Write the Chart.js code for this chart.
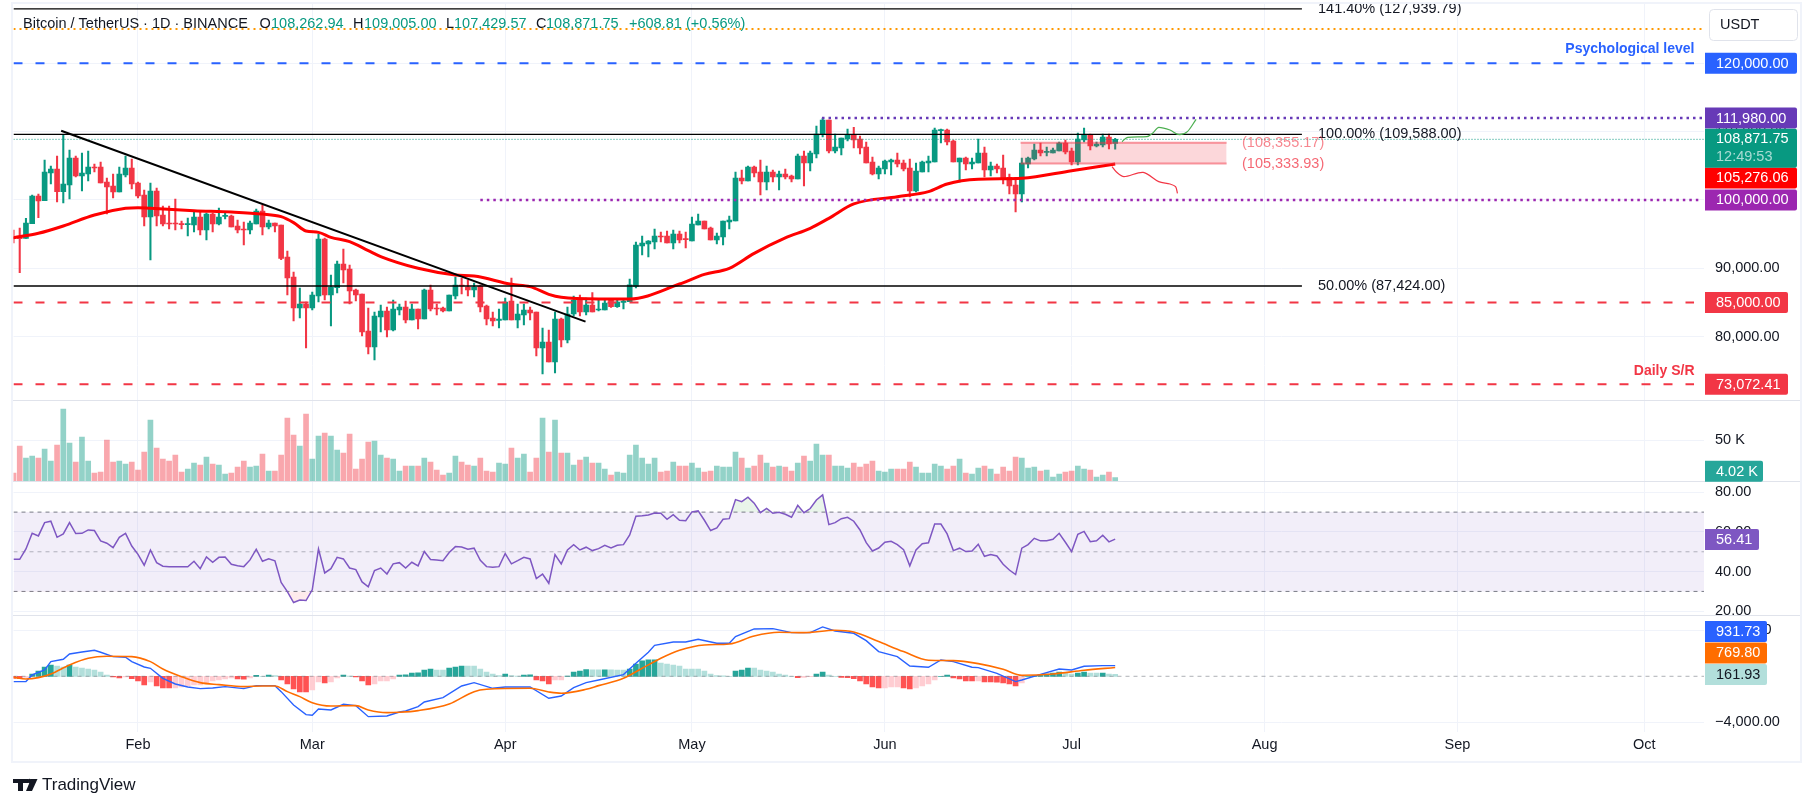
<!DOCTYPE html>
<html>
<head>
<meta charset="utf-8">
<title>Bitcoin / TetherUS</title>
<script src="https://cdn.jsdelivr.net/npm/chart.js@4"></script>
<style>
    html, body { margin: 0; padding: 0; background: #fff; }
    #chart { display: block; }
</style>
</head>
<body>
<canvas id="chart" width="1814" height="806"></canvas>
<script>
// daily candles, index 0 = 12 Jan
const opens = [
    94540,94540,94400,96540,100590,99900,103950,104530,101220,102190,
    106140,103510,103800,104830,104830,102630,102050,101170,103660,104680,
    102490,100730,97520,101320,97810,96640,96590,96540,96400,96350,
    97520,95620,97950,96490,97610,97660,96200,95760,95620,96490,
    98390,96050,96640,96350,91670,88740,84210,84800,84210,85970,
    94300,86110,87180,90640,89910,86840,86260,80850,78510,82900,
    83770,81000,83920,84360,82460,84070,82600,86840,84210,84210,
    83770,85970,87570,87280,86840,87430,84500,82750,82410,82460,
    85230,82460,83190,83920,83630,78360,79240,76320,82600,79530,
    83330,85380,83630,84650,83920,83920,85380,84410,85040,85140,
    87380,93280,93570,93860,94740,94740,93710,95030,94300,94010,
    96350,96930,95910,94150,94590,96790,96930,103220,102780,104830,
    104090,102630,104090,103360,103800,103510,103070,106430,105410,106730,
    109650,111700,107160,107600,108920,109600,108920,107750,105560,103800,
    104530,105560,105850,105410,104680,101320,104090,105410,105560,110140,
    110230,108630,105560,106140,105260,105410,106870,104390,104970,104680,
    103320,102190,100880,105260,106000,107310,106970,106870,107170,108330,
    107170,105560,108770,109500,107900,108040,109210,108262.94
];
const highs = [
    95620,95910,97320,100730,100880,105850,104970,106430,109600,107310,
    106430,106870,107160,105260,105560,103220,103800,104830,106430,106000,
    102630,101460,102490,101760,99120,99120,100150,96930,97370,98390,
    98390,98100,98100,98830,98100,97810,97080,96780,96930,98690,
    99270,97080,96640,96350,92540,89470,87140,85090,86550,95030,
    94450,89040,91080,92840,90500,86990,86260,84210,83630,84650,
    84360,85380,84800,85230,84800,84070,86990,87570,84800,84360,
    86110,88740,88600,88300,87870,87570,84650,83630,84070,85670,
    88600,84800,84800,84360,83630,81290,81000,83630,82750,84360,
    85970,86110,85670,86450,85530,85480,85480,85630,85480,88450,
    93860,94740,94060,95760,95320,95470,95620,95470,95320,97520,
    97950,96930,96050,95180,96930,97660,104090,104390,104970,104970,
    105850,104970,104390,104240,104530,103660,106730,107160,107160,110820,
    111990,111700,109650,109070,110380,110620,109360,108480,106290,104970,
    105850,106000,106870,105850,106000,105410,105700,106430,110530,110380,
    110380,108770,106140,106290,106140,108920,107750,105560,105260,106580,
    103800,103320,106140,106290,108190,108330,107750,107600,108480,108770,
    107600,109800,110530,109650,108480,109650,109650,109005
];
const lows = [
    93710,89380,94400,96540,97420,99900,102340,99710,99560,100150,
    103360,101320,102780,104090,102490,97950,100290,101170,103360,101610,
    100290,96200,91230,96200,96200,95760,95620,95760,94740,95320,
    94880,94150,95320,96350,97220,96050,95180,93420,95030,96490,
    94880,95760,95320,91280,86110,82310,82750,78360,83920,85090,
    85380,81580,86400,87870,84800,85230,80120,77490,76610,80700,
    79970,80850,83190,82020,82460,81140,82600,83770,83190,83630,
    83770,85530,86260,85970,85820,83630,81730,81580,81290,82460,
    82460,81290,81730,82460,77190,74560,76320,74710,78510,79100,
    83040,83040,83190,83630,83770,83920,84310,84310,84070,85140,
    87140,91960,91670,92840,93860,93710,92840,93710,92980,94010,
    96350,95760,94150,93570,93420,95760,96930,102340,102780,103360,
    100730,101460,102630,101460,103070,102630,103070,102050,104240,106140,
    109210,106870,106870,106580,108630,107600,106730,105410,103660,103070,
    103800,103660,104830,104240,100440,101170,104090,104090,105560,108330,
    108040,105560,102630,104390,104530,105410,103360,103510,103950,102340,
    100880,98250,99710,104680,105850,106430,106430,106870,107170,106730,
    105120,105120,108480,107310,107750,107750,107460,107429.57
];
const closes = [
    94350,94350,96640,100590,99850,104090,104530,101220,102340,106140,
    103510,103950,104830,104680,102490,101900,101170,103800,104680,102340,
    100590,97520,101320,97660,96490,96490,96490,96400,96490,97520,
    95620,97950,96490,97520,97760,96050,95620,95620,96640,98390,
    96050,96640,96200,91470,88600,84210,84800,84210,86110,94300,
    86110,87280,90640,89770,86700,86110,80700,78510,83040,83770,
    81000,84070,84360,82460,84070,82600,86840,84070,84070,83770,
    86110,87570,87430,86840,87280,84360,82600,82310,82600,85090,
    82460,83330,83920,83480,78360,79240,76320,82600,79530,83330,
    85380,83630,84650,83630,84070,84940,84410,85090,85240,87580,
    93420,93710,94010,94740,94590,93710,95030,94150,94200,96490,
    96930,95760,94150,94740,96930,97080,103220,102780,104830,103950,
    102630,104090,103360,103800,103360,103070,106430,105410,106870,109650,
    111700,107160,107750,109070,109500,108770,107600,105410,103800,104680,
    105700,105850,105260,104530,101320,104240,105560,105700,110230,110230,
    108480,105560,106140,105260,105560,106870,104390,104970,104530,103070,
    102050,100880,105410,106140,107310,106870,107070,107310,108330,107020,
    105560,108920,109500,107900,108190,109210,108190,108871.75
];
// volume in thousands, same index as the candles
const volumeK = [
    9.8,42.7,28,30.5,28,39,24.4,43.9,87.8,46.3,
    23.2,53.7,24.4,9.8,11,50,23.2,24.4,20.7,23.2,
    13.4,35.4,74.4,40.2,26.8,24.4,31.7,11,14.6,22,
    19.5,29.3,20.7,19.5,8.5,9.8,17.1,24.4,17.1,18.3,
    32.9,12.2,12.2,31.7,76.8,56.1,42.7,81.7,26.8,54.9,
    58.5,54.9,37.8,34.1,57.3,14.6,26.8,47.6,48.8,31.7,
    28,26.8,12.2,18.3,18.3,18.3,28,23.2,13.4,7.3,
    9.8,30.5,23.2,19.5,18.3,28,12.2,11,22,20.7,
    40.2,28,32.9,11,28,76.8,35.4,74.4,34.1,34.1,
    19.5,25.6,29.3,22,22,14.6,7.3,11,9.8,31.7,
    43.9,28,20.7,28,11,12.2,23.2,18.3,18.3,22,
    15.9,11,12.2,18.3,17.1,17.1,35.4,28,15.9,18.3,
    31.7,22,17.1,18.3,17.1,12.2,22,30.5,24.4,45.1,
    31.7,31.7,18.3,18.3,15.9,22,17.1,20.7,24.4,12.2,
    11,14.6,14.6,14.6,23.2,17.1,9.8,9.8,20.7,18.3,
    14.6,18.3,26.8,9.8,8.5,15.9,18.3,14.6,8.5,17.1,
    12.2,29.3,28,15.9,17.1,12.2,13.4,4.9,8.5,11,
    12.2,18.3,14.6,13.4,4.9,7.3,11,4.02
];
const rsiValues = [
    46.2,46.2,51.4,59.3,58,64.7,65.4,57.3,59,64.7,
    59.2,59.3,61,60.7,55.5,54.3,52.1,57.3,59.3,52.9,
    48.7,43.2,50.9,44.5,42.7,42.5,42.5,42.4,42.4,45.2,
    41.5,47.4,44.7,47.2,47.4,43.7,42.9,42.5,45.9,51.3,
    45.2,46.4,45.4,34.5,29.9,24.4,25.7,25.4,30.8,51.4,
    39.3,41.5,47.2,46.4,41.8,41,34.8,32.3,40.5,41.8,
    38.8,43.9,44.5,41.8,44.7,42.9,50.1,46.1,45.9,45.5,
    49.6,52.6,52.4,51.3,51.8,45.7,42.5,42.2,42.5,49.1,
    43.9,45.5,47.2,46.4,36.5,38.7,34.1,48.6,43.9,50.9,
    53.6,50.9,52.3,50.6,51.6,53.3,51.9,53.3,53.6,58.5,
    67.9,68.2,68.6,69.6,69.4,66.4,68.7,65.9,65.7,70.1,
    70.6,65.9,60.7,62,66.4,66.7,76.3,75.3,77.5,74.5,
    69.7,71.9,69.4,69.9,68.9,67.4,73.4,69.7,71.8,76.1,
    78.7,63.7,64.7,66.7,67.4,65.4,61,54.6,50.4,51.9,
    54.8,55.3,53.6,51.1,42.9,50.9,54.1,54.5,64,64,
    59,50.6,51.8,50.1,50.4,53.8,47.7,48.6,47.9,43.7,
    40.8,38.5,51.8,53.6,56.8,55.5,55.6,56.3,59.3,54.8,
    50.1,58.8,60.3,55.1,55.5,58.3,55,56.41
];
const macdHist = [
    -174,-203,-87,203,464,812,986,899,812,986,
    812,725,638,551,377,116,-58,-145,-58,-203,
    -406,-754,-493,-841,-1000,-1015,-1010,-928,-841,-750,
    -745,-580,-406,-319,-232,-145,-232,-240,-145,87,
    0,116,58,-319,-667,-1102,-1350,-1363,-1189,-493,
    -580,-493,-145,116,29,-58,-406,-754,-667,-406,
    -400,-232,116,120,290,295,551,638,551,545,
    725,812,899,890,880,638,377,203,58,203,
    58,29,116,120,-319,-406,-667,-319,-310,29,
    377,464,580,570,560,570,560,551,540,638,
    1073,1334,1421,1430,1160,1073,986,899,638,630,
    620,464,203,58,50,0,464,551,725,720,
    551,464,377,203,116,0,-116,-87,-29,203,
    377,116,0,-87,-116,-203,-406,-667,-928,-1015,
    -1000,-928,-920,-1015,-1102,-1015,-841,-667,-319,0,
    116,-145,-232,-406,-410,-400,-493,-495,-500,-580,
    -667,-841,-580,0,58,116,203,290,377,290,
    203,290,377,290,280,290,203,161.93
];

// slower lines, read at their turning points: [day, value]
const maPoints = [
    [0,94490],[4,95130],[8,96200],[13,97810],[18,98780],[20,98880],[22,98780],[29,98440],[35,98250],[40,97950],
    [43,97560],[45,96690],[47,95470],[49,95270],[51,94540],[54,93910],[57,92590],[59,91720],[65,90010],[71,89040],
    [74,88890],[80,87670],[83,87330],[86,86210],[88,85770],[94,85530],[99,85530],[107,87720],[111,89130],[115,90010],
    [119,92200],[124,94450],[128,95860],[131,97320],[135,99420],[142,100490],[147,101220],[150,102340],[155,103020],[162,103170],
    [170,104290],[177,105276.06]
];
const macdLine = [
    [0,-464],[2,-460],[3,116],[5,550],[6,1276],[8,1480],[9,1943],[11,2117],[13,2262],[14,2088],
    [16,1711],[18,1653],[19,1276],[21,812],[22,696],[24,-174],[26,-667],[28,-928],[30,-1073],[32,-1015],
    [34,-899],[37,-1073],[39,-812],[42,-812],[43,-1334],[45,-2494],[47,-3335],[48,-3393],[49,-2842],[51,-2929],
    [53,-2436],[55,-2552],[57,-3509],[60,-3451],[62,-3103],[63,-3016],[65,-2639],[66,-2233],[69,-1856],[72,-841],
    [74,-551],[77,-1044],[79,-928],[83,-928],[86,-1914],[88,-1711],[90,-986],[92,-551],[94,-319],[98,145],
    [100,1131],[102,2088],[103,2697],[106,2987],[108,2987],[110,3219],[113,2871],[115,2871],[116,3451],[119,4118],
    [122,4147],[125,3799],[128,3799],[130,4292],[132,3944],[135,3741],[137,3103],[139,2146],[142,1711],[144,899],
    [147,783],[149,1421],[151,1276],[154,783],[155,754],[158,261],[161,-464],[162,-319],[165,174],[168,638],
    [170,551],[172,870],[175,928],[177,931.73]
];
const signalLine = [
    [0,-87],[2,-232],[4,-116],[6,203],[9,986],[12,1566],[15,1740],[19,1711],[22,1276],[24,638],
    [27,-29],[30,-551],[33,-725],[37,-899],[40,-841],[42,-841],[44,-1334],[46,-1769],[48,-2291],[51,-2581],
    [55,-2552],[57,-2929],[60,-3161],[62,-3132],[65,-2987],[70,-2407],[74,-1334],[76,-1131],[83,-1044],[86,-1363],
    [88,-1479],[92,-1131],[94,-812],[98,-174],[101,696],[104,1566],[107,2262],[111,2726],[115,2813],[119,3509],
    [123,3828],[127,3799],[132,4002],[135,3857],[139,3016],[143,2146],[147,1392],[151,1363],[155,1102],[159,609],
    [162,87],[167,203],[172,522],[177,769.8]
];

// hand drawn things on the price pane: [day, price]
const trendLine = [[7.66,110130],[91.9,82210]];
const bullPath = [[178.1,108530],[179,109160],[182.1,109260],[183,109750],[184,110620],[185.8,110230],[187.3,109550],[188.6,109990],[190,111790]];
const bearPath = [[176.5,104870],[177.2,104090],[178.4,103410],[181.5,104040],[184,102680],[185.8,102340],[186.7,101950],[187,100970]];

const monthTicks = [20,48,79,109,140,170,201,232,262];
const monthLabels = ['Feb','Mar','Apr','May','Jun','Jul','Aug','Sep','Oct'];
const priceTicks = [80000,90000,100000,110000,120000];
const volumeTicks = [50];
const rsiTicks = [20,40,60,80];
const macdTicks = [-4000,4000];

const lastDay = 271.6;
const FONT = '"Liberation Sans", Arial, sans-serif';
const UP = '#089981', DOWN = '#F23645';

const money = v => v.toLocaleString('en-US', { minimumFractionDigits: 2, maximumFractionDigits: 2 });
const toXY = pts => pts.map(p => ({ x: p[0], y: p[1] }));
const isUp = i => closes[i] >= opens[i];

const line = (pts, color, width, extra) => Object.assign({
    type: 'line', data: toXY(pts), borderColor: color, borderWidth: width,
    pointRadius: 0, fill: false, tension: 0, yAxisID: 'y', order: 5
}, extra);
const level = (value, from, to, color, width, dash, axis) => line([[from, value], [to, value]], color, width, {
    borderDash: dash || [], yAxisID: axis || 'y'
});

const histColor = (ctx) => {
    const i = ctx.dataIndex, v = macdHist[i], prev = i ? macdHist[i - 1] : v;
    if (v >= 0) return v >= prev ? '#26A69A' : '#B2DFDB';
    return v <= prev ? '#FF5252' : '#FFCDD2';
};

const days = opens.map((_, i) => i);

const datasets = [
    // candles
    { type: 'bar', data: days.map(i => ({ x: i, y: [lows[i], highs[i]] })), barThickness: 1.4, grouped: false, order: 30,
      backgroundColor: c => isUp(c.dataIndex) ? UP : DOWN, yAxisID: 'y' },
    { type: 'bar', data: days.map(i => ({ x: i, y: [opens[i], closes[i]] })), barThickness: 5, minBarLength: 1, grouped: false, order: 29,
      backgroundColor: c => isUp(c.dataIndex) ? UP : DOWN, yAxisID: 'y' },
    line(maPoints, '#FF0000', 3, { order: 20, cubicInterpolationMode: 'monotone' }),

    // horizontal levels
    level(127939.79, 0, 207, '#000', 1.3),
    level(125000, 0, 271.3, '#FF9800', 2, [2, 4]),
    level(120000, 0, 270, '#2962FF', 2, [9, 13]),
    level(111980, 129.9, 271.3, '#673AB7', 2.4, [2.5, 4]),
    level(109588, 0, 207, '#000', 1.3),
    level(108871.75, 0, lastDay, UP, 1, [1, 2]),
    level(100000, 75, 271.3, '#9C27B0', 2.4, [2.5, 4]),
    level(87424, 0, 207, '#000', 1.3),
    level(85000, 0, 270, DOWN, 2, [9, 13], 'y'),
    level(73072.41, 0, 270, DOWN, 2, [9, 13], 'y'),

    // consolidation box
    line([[161.8, 108355.17], [194.9, 108355.17]], 'rgba(242,54,69,0.5)', 2, {
        fill: { target: { value: 105333.93 } }, backgroundColor: 'rgba(242,54,69,0.2)', order: 4 }),
    line([[161.8, 105333.93], [194.9, 105333.93]], 'rgba(242,54,69,0.5)', 2, { order: 4 }),

    line(trendLine, '#000', 2, { order: 3 }),
    line(bullPath, '#4CAF50', 1.2, { order: 3, cubicInterpolationMode: 'monotone' }),
    line(bearPath, '#F23645', 1.2, { order: 3, tension: 0.3 }),

    // volume
    { type: 'bar', data: days.map(i => ({ x: i, y: volumeK[i] })), barThickness: 5, grouped: false, yAxisID: 'vol', order: 10,
      backgroundColor: c => isUp(c.dataIndex) ? 'rgba(8,153,129,0.44)' : 'rgba(242,54,69,0.44)' },

    // rsi
    level(70, 0, lastDay, '#787B86', 1, [4, 4], 'rsi'),
    line([[0, 70], [lastDay, 70]], 'rgba(0,0,0,0)', 0, { yAxisID: 'rsi', fill: { target: { value: 30 } }, backgroundColor: 'rgba(126,87,194,0.1)', order: 12 }),
    level(50, 0, lastDay, 'rgba(120,123,134,0.55)', 1, [4, 4], 'rsi'),
    level(30, 0, lastDay, '#787B86', 1, [4, 4], 'rsi'),
    line(days.map(i => [i, rsiValues[i]]), 'rgba(0,0,0,0)', 0, { yAxisID: 'rsi', order: 11,
        fill: { target: { value: 70 }, above: 'rgba(76,175,80,0.12)', below: 'rgba(0,0,0,0)' } }),
    line(days.map(i => [i, rsiValues[i]]), '#7E57C2', 1.5, { yAxisID: 'rsi', order: 2,
        fill: { target: { value: 30 }, above: 'rgba(0,0,0,0)', below: 'rgba(242,54,69,0.1)' } }),

    // macd
    level(0, 0, lastDay, 'rgba(120,123,134,0.6)', 1, [4, 4], 'macd'),
    { type: 'bar', data: days.map(i => ({ x: i, y: macdHist[i] })), barThickness: 5, grouped: false, yAxisID: 'macd', order: 10,
      backgroundColor: histColor },
    line(macdLine, '#2962FF', 1.4, { yAxisID: 'macd', order: 2 }),
    line(signalLine, '#FF6D00', 1.6, { yAxisID: 'macd', order: 1, cubicInterpolationMode: 'monotone' })
];

const noPad = (s) => {
    s.paddingTop = 0; s.paddingBottom = 0; s.paddingLeft = 0; s.paddingRight = 0;
};
const paneAxis = (min, max, weight, ticks, fmt) => ({
    axis: 'y', type: 'linear', position: 'right', stack: 'panes', stackWeight: weight, min, max,
    border: { display: false },
    grid: { color: '#F0F3FA', drawTicks: false },
    afterBuildTicks: s => { s.ticks = ticks.map(v => ({ value: v })); },
    afterFit: s => { s.width = 110; noPad(s); },
    ticks: { autoSkip: false, crossAlign: 'near', padding: 11, color: '#131722', font: { family: FONT, size: 14.5 }, callback: fmt }
});

// right hand price tags: scale, value, shift from the true price, text, colours, right edge
const tags = [
    ['y', 120000, 0, '120,000.00', '#2962FF', '#fff', 1797],
    ['y', 111980, 0, '111,980.00', '#673AB7', '#fff', 1797],
    ['y', 105276.06, 14, '105,276.06', '#FF0000', '#fff', 1797],
    ['y', 100000, 0, '100,000.00', '#9C27B0', '#fff', 1797],
    ['y', 85000, 0, '85,000.00', DOWN, '#fff', 1788],
    ['y', 73072.41, 0, '73,072.41', DOWN, '#fff', 1788],
    ['vol', 4.02, -6.5, '4.02 K', '#26A69A', '#fff', 1763],
    ['rsi', 56.41, 0.5, '56.41', '#7E57C2', '#fff', 1759],
    ['macd', 931.73, -34, '931.73', '#2962FF', '#fff', 1767],
    ['macd', 769.8, -14.5, '769.80', '#FF6D00', '#fff', 1767],
    ['macd', 161.93, 0, '161.93', '#B2DFDB', '#131722', 1767]
];

// text on the price pane, anchored to the price it describes
const notes = [
    [1318, 127939.79, '141.40% (127,939.79)', '#131722', 'left', '', 14.5],
    [1318, 109588, '100.00% (109,588.00)', '#131722', 'left', '', 14.5],
    [1318, 87424, '50.00% (87,424.00)', '#131722', 'left', '', 14.5],
    [1242, 108355.17, '(108,355.17)', 'rgba(242,54,69,0.6)', 'left', '', 14.5],
    [1242, 105333.93, '(105,333.93)', 'rgba(242,54,69,0.75)', 'left', '', 14.5],
    [1694.5, 122000, 'Psychological level', '#2962FF', 'right', 'bold ', 14],
    [1694.5, 75000, 'Daily S/R', DOWN, 'right', 'bold ', 14]
];

const header = [
    [23, 'Bitcoin / TetherUS \u00B7 1D \u00B7 BINANCE', '#131722'],
    [259.5, 'O', '#131722'], [271, '108,262.94', UP],
    [353, 'H', '#131722'], [364, '109,005.00', UP],
    [446, 'L', '#131722'], [454, '107,429.57', UP],
    [536, 'C', '#131722'], [546, '108,871.75', UP],
    [629, '+608.81', UP], [686, '(+0.56%)', UP]
];

const overlay = {
    id: 'overlay',
    afterDraw(chart) {
        const ctx = chart.ctx, s = chart.scales;
        ctx.save();
        ctx.font = '14.5px ' + FONT;
        ctx.textBaseline = 'middle';

        // notes, clipped at the top of the frame
        ctx.save();
        ctx.beginPath();
        ctx.rect(13, 4, 1790, 396);
        ctx.clip();
        notes.forEach(n => {
            ctx.font = n[5] + n[6] + 'px ' + FONT;
            ctx.textAlign = n[4];
            ctx.fillStyle = n[3];
            ctx.fillText(n[2], n[0], s.y.getPixelForValue(n[1]));
        });
        ctx.restore();

        ctx.font = '14.5px ' + FONT;
        ctx.textAlign = 'left';
        header.forEach(h => {
            ctx.fillStyle = h[2];
            ctx.fillText(h[1], h[0], 24);
        });

        // pane separators and outer frame
        ctx.strokeStyle = '#E0E3EB';
        ctx.lineWidth = 1;
        [s.y.bottom, s.vol.bottom, s.rsi.bottom].forEach(y => {
            ctx.beginPath();
            ctx.moveTo(13, Math.round(y) + 0.5);
            ctx.lineTo(1801, Math.round(y) + 0.5);
            ctx.stroke();
        });
        ctx.strokeStyle = '#F0F3FA';
        ctx.lineWidth = 2;
        ctx.strokeRect(12, 3, 1789, 759);

        // rsi 20 label runs into the next pane
        ctx.fillStyle = '#fff';
        ctx.fillRect(1705, 616, 95, 6);

        // currency box
        ctx.strokeStyle = '#E0E3EB';
        ctx.lineWidth = 1;
        ctx.beginPath();
        ctx.roundRect(1709.5, 9.5, 88, 31, 4);
        ctx.stroke();
        ctx.fillStyle = '#131722';
        ctx.fillText('USDT', 1720, 25);

        // tags
        tags.forEach(t => {
            const y = s[t[0]].getPixelForValue(t[1]) + t[2];
            ctx.fillStyle = t[4];
            ctx.beginPath();
            ctx.roundRect(1705, y - 10.5, t[6] - 1705, 21, [0, 2, 2, 0]);
            ctx.fill();
            ctx.fillStyle = t[5];
            ctx.fillText(t[3], 1716, y + 0.5);
        });

        // last price tag has the countdown under it
        const lastY = s.y.getPixelForValue(108871.75);
        ctx.fillStyle = UP;
        ctx.beginPath();
        ctx.roundRect(1705, lastY - 10.5, 92, 39, [0, 2, 2, 0]);
        ctx.fill();
        ctx.fillStyle = '#fff';
        ctx.fillText('108,871.75', 1716, lastY);
        ctx.fillStyle = 'rgba(255,255,255,0.65)';
        ctx.fillText('12:49:53', 1716, lastY + 18);

        // logo
        ctx.fillStyle = '#131722';
        ctx.fillRect(13, 779, 15, 4);
        ctx.fillRect(18, 779, 5, 12);
        ctx.beginPath();
        ctx.arc(29.5, 781, 2.2, 0, Math.PI * 2);
        ctx.fill();
        ctx.beginPath();
        ctx.moveTo(31, 779); ctx.lineTo(37.5, 779); ctx.lineTo(32, 791); ctx.lineTo(26, 791);
        ctx.closePath();
        ctx.fill();
        ctx.font = '17px ' + FONT;
        ctx.fillText('TradingView', 42, 785);
        ctx.restore();
    }
};

new Chart(document.getElementById('chart').getContext('2d'), {
    data: { datasets },
    plugins: [overlay],
    options: {
        responsive: false,
        animation: false,
        events: [],
        layout: { padding: { left: 13.5, right: 0, top: 4, bottom: 44 } },
        plugins: { legend: { display: false }, tooltip: { enabled: false } },
        scales: {
            x: {
                type: 'linear', position: 'bottom', min: 0, max: lastDay, offset: false,
                border: { display: false },
                grid: { color: '#F0F3FA', tickLength: 5, offset: false },
                afterBuildTicks: s => { s.ticks = monthTicks.map(v => ({ value: v })); },
                afterFit: s => { s.height = 35; noPad(s); },
                ticks: {
                    autoSkip: false, maxRotation: 0, padding: 4, color: '#131722', font: { family: FONT, size: 14.5 },
                    callback: v => monthLabels[monthTicks.indexOf(v)]
                }
            },
            y: paneAxis(70760, 128655, 396, priceTicks, v => money(v)),
            vol: paneAxis(0, 98.8, 81, volumeTicks, v => v + ' K'),
            rsi: paneAxis(18.1, 85.7, 134, rsiTicks, v => v.toFixed(2)),
            macd: paneAxis(-4409, 5330, 112, macdTicks, v => money(v).replace('-', '\u2212'))
        }
    }
});
</script>
</body>
</html>
